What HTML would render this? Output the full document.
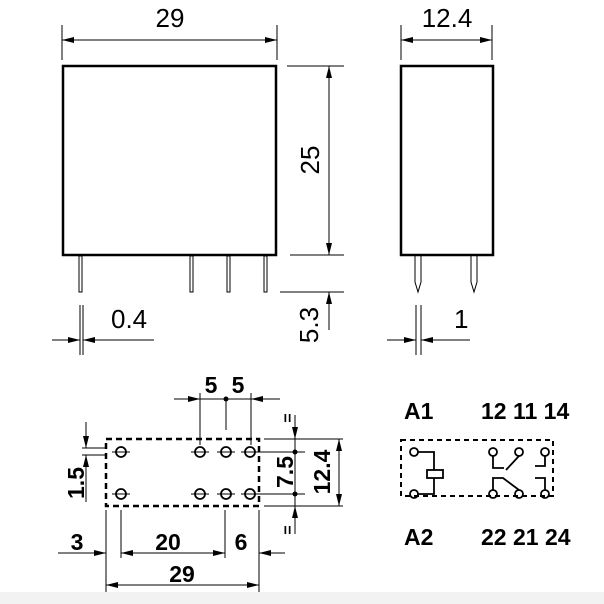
<!DOCTYPE html>
<html><head><style>
html,body{margin:0;padding:0;background:#fff}
svg{display:block}
.d{font-family:"Liberation Sans",sans-serif;font-size:26px;fill:#000}
.b{font-family:"Liberation Sans Narrow","Liberation Sans",sans-serif;font-size:23px;font-weight:bold;fill:#000}
</style></head><body>
<svg width="604" height="604" viewBox="0 0 604 604" xmlns="http://www.w3.org/2000/svg">
<defs>
<marker id="a" viewBox="0 0 12 6" refX="12" refY="3" markerWidth="12" markerHeight="6" orient="auto-start-reverse" markerUnits="userSpaceOnUse"><path d="M0,0L12,3L0,6z" fill="#000"/></marker>
</defs>
<rect x="0" y="592" width="604" height="12" fill="#f2f2f2"/>
<g stroke="#000" fill="none">
<rect x="63" y="66" width="213" height="189" stroke-width="2.5"/>
<g stroke-width="1">
<line x1="62" y1="25" x2="62" y2="60"/><line x1="277" y1="25" x2="277" y2="60"/>
<line x1="62" y1="40" x2="277" y2="40" marker-start="url(#a)" marker-end="url(#a)"/>
<rect x="79" y="256" width="3" height="36"/><rect x="190" y="256" width="3" height="36"/>
<rect x="227" y="256" width="3" height="36"/><rect x="264" y="256" width="3" height="36"/>
<line x1="287" y1="66" x2="344" y2="66"/><line x1="290" y1="255" x2="344" y2="255"/><line x1="280" y1="292" x2="344" y2="292"/>
<line x1="329" y1="66" x2="329" y2="255" marker-start="url(#a)" marker-end="url(#a)"/>
<line x1="329" y1="330" x2="329" y2="292" marker-end="url(#a)"/>
<line x1="80" y1="305" x2="80" y2="355"/><line x1="83" y1="305" x2="83" y2="355"/>
<line x1="52" y1="340" x2="80" y2="340" marker-end="url(#a)"/>
<line x1="154" y1="340" x2="83" y2="340" marker-end="url(#a)"/>
<line x1="401" y1="25" x2="401" y2="60"/><line x1="492" y1="25" x2="492" y2="60"/>
<line x1="401" y1="40" x2="492" y2="40" marker-start="url(#a)" marker-end="url(#a)"/>
<path d="M415,256V282L418,292L421,282V256"/><path d="M471,256V282L474,292L477,282V256"/>
<line x1="416" y1="305" x2="416" y2="355"/><line x1="421" y1="305" x2="421" y2="355"/>
<line x1="387" y1="340" x2="416" y2="340" marker-end="url(#a)"/>
<line x1="470" y1="340" x2="421" y2="340" marker-end="url(#a)"/>
</g>
<rect x="401" y="66" width="92" height="189" stroke-width="2.5"/>
<rect x="106" y="439" width="153" height="67" stroke-width="2.5" stroke-dasharray="6,4"/>
<g stroke-width="1.8">
<circle cx="121" cy="452" r="5"/><circle cx="200" cy="452" r="5"/><circle cx="226" cy="452" r="5"/><circle cx="250" cy="452" r="5"/>
<circle cx="121" cy="494" r="5"/><circle cx="200" cy="494" r="5"/><circle cx="226" cy="494" r="5"/><circle cx="250" cy="494" r="5"/>
</g>
<g stroke-width="1">
<line x1="112" y1="452" x2="130" y2="452"/><line x1="191" y1="452" x2="209" y2="452"/><line x1="217" y1="452" x2="235" y2="452"/><line x1="241" y1="452" x2="259" y2="452"/>
<line x1="112" y1="494" x2="130" y2="494"/><line x1="191" y1="494" x2="209" y2="494"/><line x1="217" y1="494" x2="235" y2="494"/><line x1="241" y1="494" x2="259" y2="494"/>
<line x1="200" y1="393" x2="200" y2="445"/><line x1="226" y1="400" x2="226" y2="430"/><line x1="251" y1="393" x2="251" y2="445"/>
<line x1="174" y1="399" x2="200" y2="399" marker-end="url(#a)"/>
<line x1="200" y1="399" x2="251" y2="399"/>
<line x1="280" y1="399" x2="251" y2="399" marker-end="url(#a)"/>
<line x1="82" y1="448" x2="106" y2="448"/><line x1="82" y1="455" x2="106" y2="455"/>
<line x1="86" y1="422" x2="86" y2="448" marker-end="url(#a)"/>
<line x1="86" y1="502" x2="86" y2="455" marker-end="url(#a)"/>
<line x1="264" y1="439" x2="343" y2="439"/><line x1="264" y1="506" x2="343" y2="506"/>
<line x1="255" y1="452" x2="305" y2="452"/><line x1="255" y1="494" x2="305" y2="494"/>
<line x1="295" y1="415" x2="295" y2="439" marker-end="url(#a)"/>
<line x1="295" y1="439" x2="295" y2="506"/>
<line x1="295" y1="534" x2="295" y2="506" marker-end="url(#a)"/>
<line x1="339" y1="439" x2="339" y2="506" marker-start="url(#a)" marker-end="url(#a)"/>
<line x1="106" y1="510" x2="106" y2="592"/><line x1="121" y1="510" x2="121" y2="558"/>
<line x1="225" y1="510" x2="225" y2="558"/><line x1="259" y1="510" x2="259" y2="592"/>
<line x1="58" y1="553" x2="106" y2="553" marker-end="url(#a)"/>
<line x1="121" y1="553" x2="225" y2="553" marker-start="url(#a)" marker-end="url(#a)"/>
<line x1="285" y1="553" x2="259" y2="553" marker-end="url(#a)"/>
<line x1="106" y1="585" x2="259" y2="585" marker-start="url(#a)" marker-end="url(#a)"/>
</g>
<rect x="401" y="440" width="152" height="56" stroke-width="2" stroke-dasharray="5,4"/>
<g stroke-width="1.8">
<circle cx="414" cy="452" r="4"/><circle cx="414" cy="494" r="4"/>
<path d="M418,452H434V470M434,478V494H418"/>
<rect x="427" y="470" width="16" height="8"/>
<circle cx="493" cy="452" r="4"/><circle cx="519" cy="452" r="4"/><circle cx="545" cy="452" r="4"/>
<circle cx="493" cy="494" r="4"/><circle cx="519" cy="494" r="4"/><circle cx="545" cy="494" r="4"/>
<path d="M493,456V468H504"/><path d="M519,456L506,470"/>
<path d="M493,490V478H503L519,490"/>
<path d="M545,456V466H535"/><path d="M545,490V478H535"/>
</g>
</g>
<g fill="#000"><circle cx="226" cy="399" r="2.5"/><circle cx="295" cy="452" r="2.5"/><circle cx="295" cy="494" r="2.5"/></g>
<text class="d" x="170" y="27" text-anchor="middle">29</text>
<text class="d" x="447" y="27" text-anchor="middle">12.4</text>
<text class="d" transform="translate(319,160) rotate(-90)" text-anchor="middle">25</text>
<text class="d" x="111" y="328">0.4</text>
<text class="d" transform="translate(318,325) rotate(-90)" text-anchor="middle">5.3</text>
<text class="d" x="454" y="328">1</text>
<text class="b" x="211" y="393" text-anchor="middle">5</text><text class="b" x="238" y="393" text-anchor="middle">5</text>
<text class="b" transform="translate(84,483) rotate(-90)" text-anchor="middle">1.5</text>
<text class="b" transform="translate(293,472) rotate(-90)" text-anchor="middle">7.5</text>
<text class="b" transform="translate(330,472) rotate(-90)" text-anchor="middle">12.4</text>
<text class="b" transform="translate(293,418) rotate(-90)" text-anchor="middle" style="font-size:16px">=</text>
<text class="b" transform="translate(293,530) rotate(-90)" text-anchor="middle" style="font-size:16px">=</text>
<text class="b" x="77" y="550" text-anchor="middle">3</text>
<text class="b" x="168" y="550" text-anchor="middle">20</text>
<text class="b" x="241" y="550" text-anchor="middle">6</text>
<text class="b" x="182" y="582" text-anchor="middle">29</text>
<text class="b" x="404" y="419">A1</text>
<text class="b" x="481" y="419">12 11 14</text>
<text class="b" x="404" y="545">A2</text>
<text class="b" x="481" y="545">22 21 24</text>
</svg>
</body></html>
